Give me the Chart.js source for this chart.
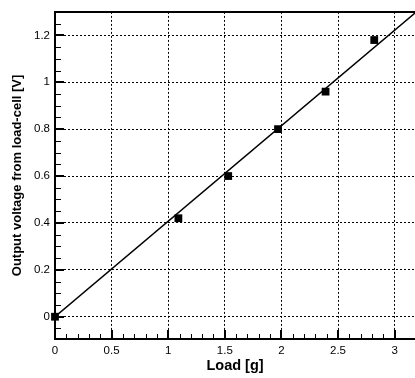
<!DOCTYPE html>
<html>
<head>
<meta charset="utf-8">
<script src="https://cdn.jsdelivr.net/npm/chart.js@4"></script>
<style>
  html, body { margin: 0; padding: 0; background: #fff; }
  #wrap { width: 415px; height: 378px; }
</style>
</head>
<body>
<div id="wrap"><canvas id="loadChart" width="415" height="378"></canvas></div>
<script>
// measured points
var loadG = [0, 1.09, 1.53, 1.97, 2.39, 2.82];
var voltageV = [0, 0.42, 0.60, 0.80, 0.96, 1.18];

// fitted line (through origin)
var fitX = [0, 3.18];
var fitY = [0, 1.295];

// axis ticks
var xMajorTicks = [0, 0.5, 1, 1.5, 2, 2.5, 3];
var yMajorTicks = [0, 0.2, 0.4, 0.6, 0.8, 1, 1.2];
var xMinorStep = 0.1;
var yMinorStep = 0.05;

function isMajor(v, list){
	for (var i=0;i<list.length;i++){
		if (Math.abs(v - list[i]) < 1e-6) return true;
	}
	return false;
}

function toPoints(xs, ys){
	var pts = [];
	for (var i=0;i<xs.length;i++){
		pts.push({x: xs[i], y: ys[i]});
	}
	return pts;
}

// tick marks pointing into the plot
var inwardTicks = {
	id: 'inwardTicks',
	afterDraw: function(chart){
		var ctx = chart.ctx;
		var area = chart.chartArea;
		var xs = chart.scales.x, ys = chart.scales.y;
		var lastX = xMajorTicks[xMajorTicks.length-1];
		ctx.save();
		ctx.strokeStyle = '#000';
		xs.ticks.forEach(function(t){
			if (t.value > lastX + 1e-6) return;
			var major = isMajor(t.value, xMajorTicks);
			var px = Math.round(xs.getPixelForValue(t.value)) + (major ? 0 : 0.5);
			ctx.lineWidth = major ? 2 : 1;
			ctx.beginPath();
			ctx.moveTo(px, area.bottom);
			ctx.lineTo(px, area.bottom - (major ? 9 : 5));
			ctx.stroke();
		});
		ys.ticks.forEach(function(t){
			var major = isMajor(t.value, yMajorTicks);
			var py = Math.round(ys.getPixelForValue(t.value)) + (major ? 0 : 0.5);
			ctx.lineWidth = major ? 2 : 1;
			ctx.beginPath();
			ctx.moveTo(area.left, py);
			ctx.lineTo(area.left + (major ? 9 : 6), py);
			ctx.stroke();
		});
		ctx.restore();
	}
};

var tickFont = { family: 'Liberation Sans, Arial, sans-serif', size: 11.5 };
var titleFont = { family: 'Liberation Sans, Arial, sans-serif', size: 13, weight: 'bold' };
var xTitleFont = { family: 'Liberation Sans, Arial, sans-serif', size: 14.5, weight: 'bold' };

function noSidePadding(scale){
	scale.paddingLeft = 0;
	scale.paddingRight = 0;
}

var chart = new Chart(document.getElementById('loadChart'), {
	type: 'scatter',
	data: {
		datasets: [{
			label: 'Measured',
			data: toPoints(loadG, voltageV),
			pointStyle: 'rect',
			pointRadius: 5.5,
			pointBackgroundColor: '#000',
			pointBorderColor: '#000',
			pointBorderWidth: 0,
			showLine: false,
			clip: false
		}, {
			label: 'Fit',
			data: toPoints(fitX, fitY),
			showLine: true,
			borderColor: '#000',
			borderWidth: 1.6,
			pointRadius: 0,
			fill: false,
			clip: 0
		}]
	},
	plugins: [inwardTicks],
	options: {
		responsive: false,
		animation: false,
		devicePixelRatio: 1,
		layout: { autoPadding: false, padding: { top: 10, right: 0, left: 0, bottom: 0 } },
		plugins: {
			legend: { display: false },
			tooltip: { enabled: false }
		},
		scales: {
			x: {
				type: 'linear',
				position: 'bottom',
				min: 0,
				max: 3.18,
				afterFit: function(scale){ scale.height = 39; noSidePadding(scale); },
				border: { display: true, color: '#000', width: 2, dash: [2, 2] },
				grid: {
					drawTicks: false,
					lineWidth: 1,
					color: function(c){ return (c.tick && isMajor(c.tick.value, xMajorTicks) && c.tick.value > 0) ? '#000' : 'rgba(0,0,0,0)'; }
				},
				ticks: {
					stepSize: xMinorStep,
					autoSkip: false,
					includeBounds: false,
					maxRotation: 0,
					padding: 5,
					color: '#000',
					font: tickFont,
					callback: function(v){ return isMajor(v, xMajorTicks) ? String(+v.toFixed(2)) : ''; }
				},
				title: {
					display: true,
					text: 'Load [g]',
					color: '#000',
					font: xTitleFont,
					padding: { top: 0, bottom: 3 }
				}
			},
			x2: {
				type: 'linear',
				position: 'top',
				min: 0,
				max: 3.18,
				afterFit: noSidePadding,
				border: { display: true, color: '#000', width: 2 },
				grid: { display: false, drawTicks: false },
				ticks: { display: false }
			},
			y: {
				type: 'linear',
				position: 'left',
				min: -0.095,
				max: 1.3,
				afterFit: function(scale){ scale.width = 55; },
				border: { display: true, color: '#000', width: 2, dash: [2, 2] },
				grid: {
					drawTicks: false,
					lineWidth: 1,
					color: function(c){ return (c.tick && isMajor(c.tick.value, yMajorTicks)) ? '#000' : 'rgba(0,0,0,0)'; }
				},
				ticks: {
					stepSize: yMinorStep,
					autoSkip: false,
					includeBounds: false,
					padding: 5,
					color: '#000',
					font: tickFont,
					callback: function(v){ return isMajor(v, yMajorTicks) ? String(+v.toFixed(2)) : ''; }
				},
				title: {
					display: true,
					text: 'Output voltage from load-cell [V]',
					color: '#000',
					font: titleFont,
					padding: { top: 10, bottom: 0 }
				}
			}
		}
	}
});
</script>
</body>
</html>
